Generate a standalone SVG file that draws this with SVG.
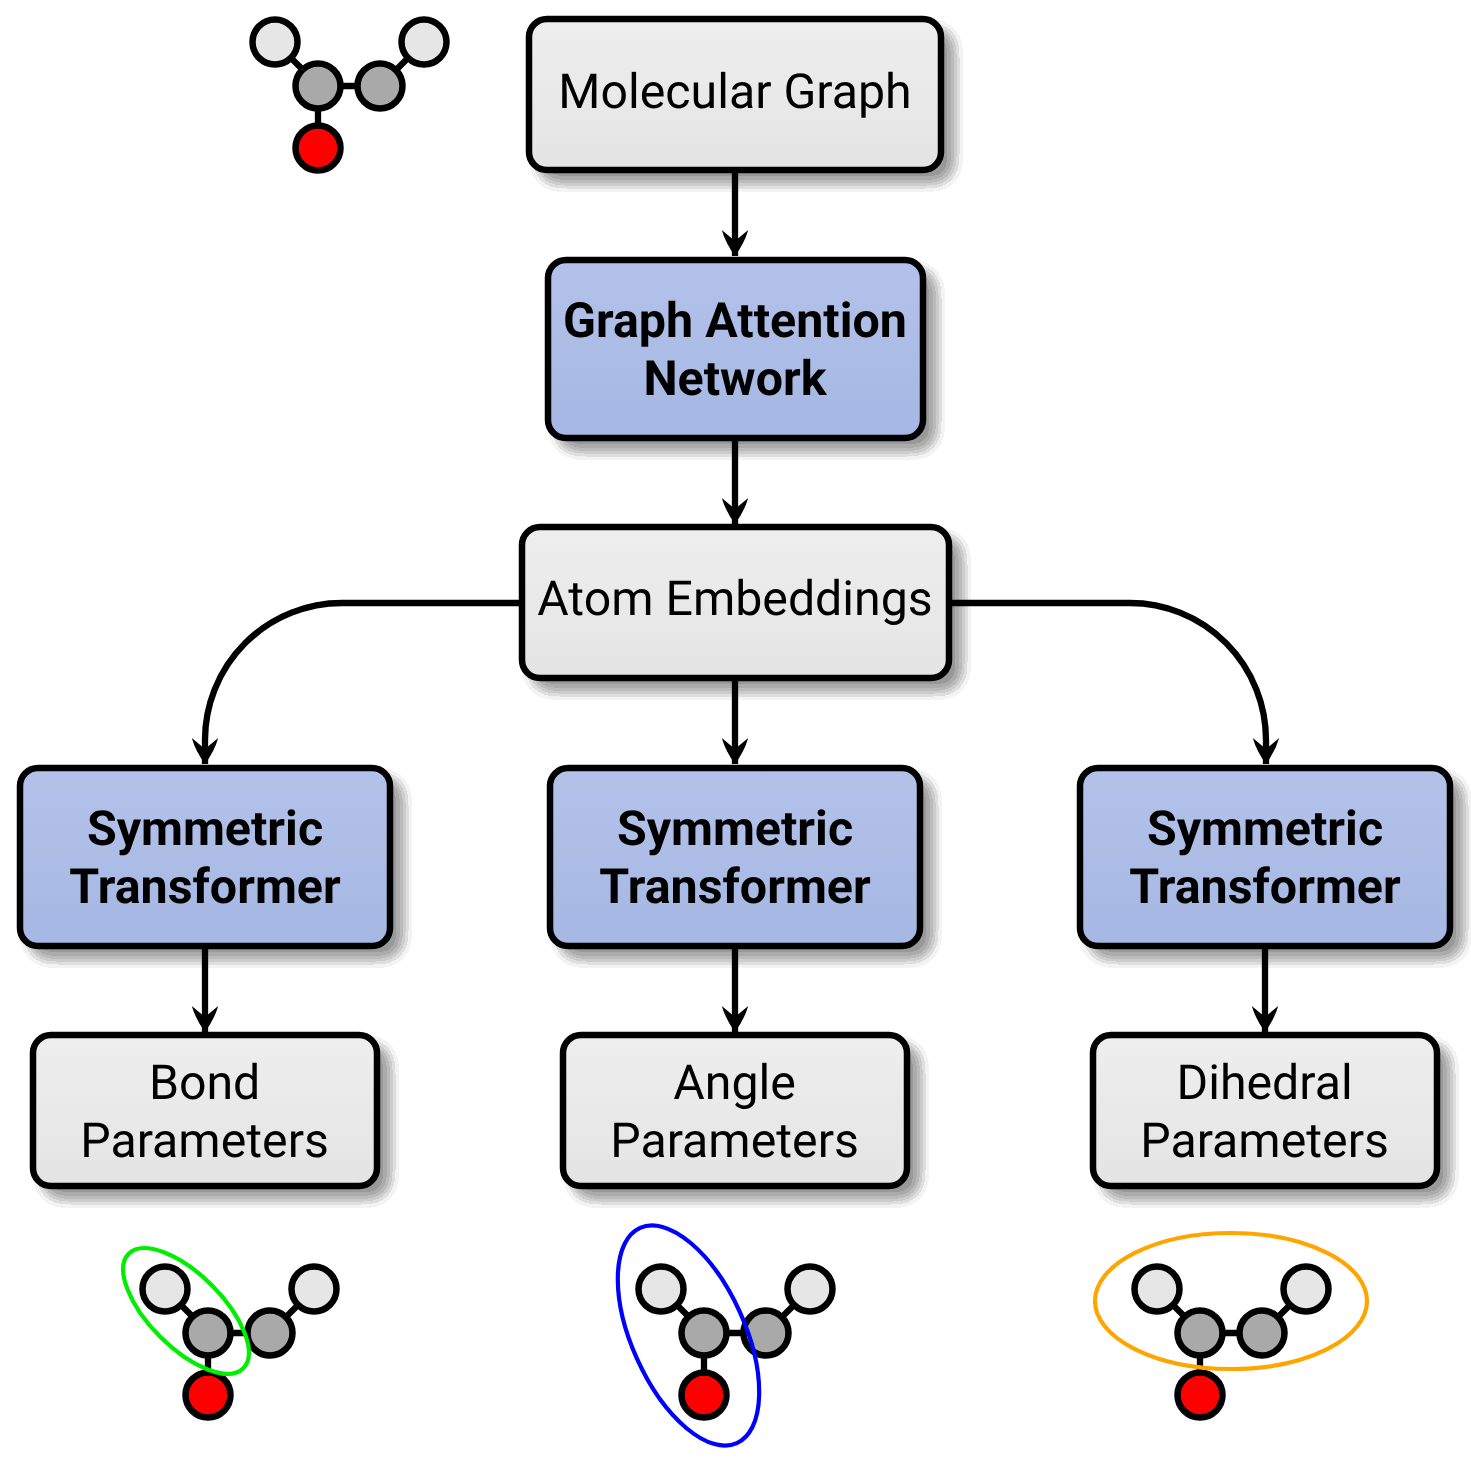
<svg xmlns="http://www.w3.org/2000/svg" width="1471" height="1458" viewBox="0 0 1471 1458">
<style>
text{font-family:Roboto,"Liberation Sans",sans-serif;font-size:48.25px;fill:#000;text-anchor:middle;text-rendering:geometricPrecision}
.b{font-weight:700;font-size:48.4px}
.box{stroke:#000;stroke-width:6.5}
.gray{fill:url(#g)}
.blue{fill:url(#u)}
.conn{fill:none;stroke:#000;stroke-width:6.3;marker-end:url(#arrow)}
.bond{stroke:#000;stroke-width:6.3}
.atom{stroke:#000;stroke-width:6.5}
.h{fill:#e6e6e6}.c{fill:#a9a9a9}.o{fill:#f00}
.ring{fill:none;stroke-width:4.2}
</style>
<defs>
<linearGradient id="g" x1="0" y1="0" x2="0" y2="1"><stop offset="0" stop-color="#eeeeee"/><stop offset="1" stop-color="#e4e4e4"/></linearGradient>
<linearGradient id="u" x1="0" y1="0" x2="0" y2="1"><stop offset="0" stop-color="#b3c2e9"/><stop offset="1" stop-color="#a5b7e3"/></linearGradient>
<filter id="s" x="-10%" y="-20%" width="130%" height="150%"><feGaussianBlur in="SourceAlpha" stdDeviation="7.5"/><feOffset dx="11" dy="11"/><feComponentTransfer><feFuncA type="discrete" tableValues="0 0.05 0.13 0.2 0.27 0.33 0.4"/></feComponentTransfer><feMerge><feMergeNode/><feMergeNode in="SourceGraphic"/></feMerge></filter>
<marker id="arrow" markerUnits="userSpaceOnUse" markerWidth="30" markerHeight="30" refX="26" refY="15" orient="auto" overflow="visible"><path d="M26,15 Q13,5.5 0,1.8 L11,15 L0,28.2 Q13,24.5 26,15 Z" fill="#000"/></marker>
<g id="mol"><path class="bond" d="M43,43L0,0M43,44H105M105,44L149,0M43,44V106"/><circle class="atom h" cx="0" cy="0" r="22.5"/><circle class="atom h" cx="149" cy="0" r="22.5"/><circle class="atom c" cx="43" cy="44" r="22.5"/><circle class="atom c" cx="105" cy="44" r="22.5"/><circle class="atom o" cx="43" cy="106" r="22.5"/></g>
</defs>
<g id="connectors">
<path class="conn" d="M735,173V256"/>
<path class="conn" d="M735,441V524"/>
<path class="conn" d="M735,681V764"/>
<path class="conn" d="M205,949V1032"/>
<path class="conn" d="M735,949V1032"/>
<path class="conn" d="M1265,949V1032"/>
<path class="conn" d="M519,603H342A137,137 0 0 0 205,740V764"/>
<path class="conn" d="M952,603H1130A136,137 0 0 1 1266,740V764"/>
</g>
<g id="n1"><rect class="box gray" filter="url(#s)" x="529" y="19" width="412" height="151" rx="18"/><text x="735" y="108">Molecular Graph</text></g>
<g id="n2"><rect class="box blue" filter="url(#s)" x="548" y="260" width="375" height="178" rx="18"/><text class="b" x="735" y="337">Graph Attention</text><text class="b" x="735" y="395">Network</text></g>
<g id="n3"><rect class="box gray" filter="url(#s)" x="522" y="527" width="427" height="151" rx="18"/><text x="735" y="615">Atom Embeddings</text></g>
<g id="n4"><rect class="box blue" filter="url(#s)" x="20" y="768" width="370" height="178" rx="18"/><text class="b" x="205" y="845">Symmetric</text><text class="b" x="205" y="903">Transformer</text></g>
<g id="n5"><rect class="box blue" filter="url(#s)" x="550" y="768" width="370" height="178" rx="18"/><text class="b" x="735" y="845">Symmetric</text><text class="b" x="735" y="903">Transformer</text></g>
<g id="n6"><rect class="box blue" filter="url(#s)" x="1080" y="768" width="370" height="178" rx="18"/><text class="b" x="1265" y="845">Symmetric</text><text class="b" x="1265" y="903">Transformer</text></g>
<g id="n7"><rect class="box gray" filter="url(#s)" x="33" y="1035" width="344" height="151" rx="18"/><text x="204.6" y="1099">Bond</text><text x="204.6" y="1157">Parameters</text></g>
<g id="n8"><rect class="box gray" filter="url(#s)" x="563" y="1035" width="344" height="151" rx="18"/><text x="734.6" y="1099">Angle</text><text x="734.6" y="1157">Parameters</text></g>
<g id="n9"><rect class="box gray" filter="url(#s)" x="1093" y="1035" width="344" height="151" rx="18"/><text x="1264.6" y="1099">Dihedral</text><text x="1264.6" y="1157">Parameters</text></g>
<g id="mol0"><use href="#mol" x="275" y="42"/></g>
<g id="mol1"><use href="#mol" x="165" y="1289"/><ellipse class="ring" stroke="#00ee00" cx="186" cy="1311" rx="81" ry="36.5" transform="rotate(45 186 1311)"/></g>
<g id="mol2"><use href="#mol" x="661" y="1289"/><ellipse class="ring" stroke="#0000ff" cx="688.5" cy="1335.5" rx="118" ry="56.5" transform="rotate(65.8 688.5 1335.5)"/></g>
<g id="mol3"><use href="#mol" x="1157" y="1289"/><ellipse class="ring" stroke="#ffa500" cx="1231" cy="1301" rx="136" ry="68"/></g>
</svg>
